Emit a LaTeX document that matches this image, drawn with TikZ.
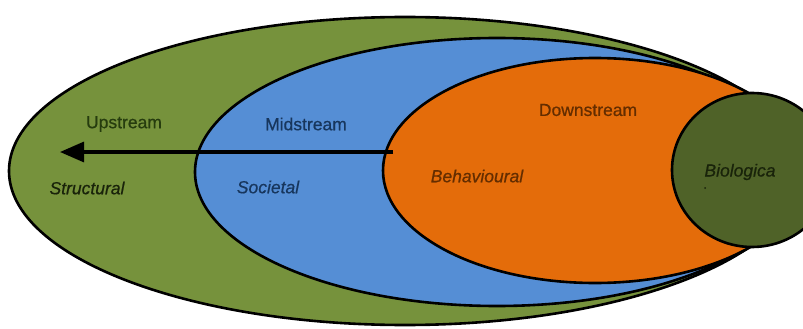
\documentclass[tikz,border=0pt]{standalone}
\usepackage{fontspec}
\setmainfont{Liberation Sans}
\usetikzlibrary{arrows.meta}
\definecolor{outergreen}{RGB}{118,146,60}
\definecolor{midblue}{RGB}{85,142,213}
\definecolor{inorange}{RGB}{228,108,10}
\definecolor{darkgreen}{RGB}{79,98,40}
\definecolor{txtgreen}{RGB}{38,60,14}
\definecolor{txtdark}{RGB}{25,35,10}
\definecolor{txtblue}{RGB}{23,54,93}
\definecolor{txtbrown}{RGB}{100,45,0}
\begin{document}
\begin{tikzpicture}[x=1pt,y=-1pt,
  zone/.style={draw=black,line width=2.6pt},
  lbl/.style={font=\fontsize{17.5}{20}\selectfont\addfontfeature{FakeBold=0.6},inner sep=0pt},
  ilbl/.style={font=\fontsize{17.5}{20}\selectfont\itshape\addfontfeature{FakeBold=0.6},inner sep=0pt}]
\useasboundingbox (0,0) rectangle (803,329);
\fill[white] (0,0) rectangle (803,329);
\draw[zone,fill=outergreen] (405,171) ellipse [x radius=396, y radius=154];
\draw[zone,fill=midblue] (497,172) ellipse [x radius=302, y radius=134];
\draw[zone,fill=inorange] (595,170.5) ellipse [x radius=212, y radius=112.5];
\draw[zone,fill=darkgreen] (752,170) ellipse [x radius=80, y radius=77];
\coordinate (astart) at (393,152);
\coordinate (aend) at (60,152);
\draw[line width=3.2pt,-{Triangle[length=24pt,width=20pt]}] (astart) -- (aend);
\node[lbl,text=txtgreen] (up) at (124,124) {Upstream};
\node[lbl,text=txtblue] (mid) at (306,124) {Midstream};
\node[lbl,text=txtbrown] (down) at (588,110) {Downstream};
\node[ilbl,text=txtdark] (struct) at (87,188) {Structural};
\node[ilbl,text=txtblue] (soc) at (268,187) {Societal};
\node[ilbl,text=txtbrown] (beh) at (477,176) {Behavioural};
\node[ilbl,text=txtdark] (bio) at (740,172) {Biologica};
\fill[txtdark] (705,188) circle (1);
\end{tikzpicture}
\end{document}
